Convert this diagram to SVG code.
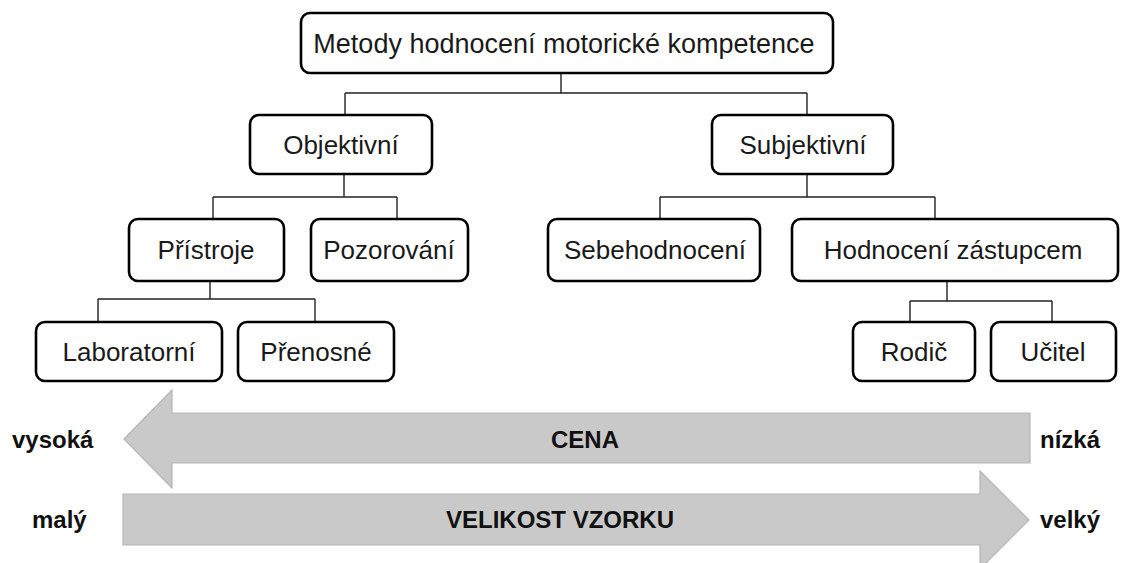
<svg xmlns="http://www.w3.org/2000/svg" width="1137" height="563" viewBox="0 0 1137 563">
<style>
.box{fill:#fff;stroke:#000;stroke-width:2.6}
.t{font-family:"Liberation Sans",Arial,sans-serif;font-size:26px;fill:#1a1a1a;text-anchor:middle}
.top{font-size:27px}
.b{font-family:"Liberation Sans",Arial,sans-serif;font-size:24px;font-weight:bold;fill:#111}
.c{fill:none;stroke:#222;stroke-width:1.4}
.arr{fill:#c9c9c9;stroke:#b5b5b5;stroke-width:1.2}
</style>
<rect width="1137" height="563" fill="#fff"/>
<g id="connectors">
<path class="c" d="M561 73V93M345 93H807M345 93V115M807 93V115"/>
<path class="c" d="M344 174V197M213 197H397M213 197V219M397 197V219"/>
<path class="c" d="M807 174V197M660 197H935M660 197V219M935 197V219"/>
<path class="c" d="M210 281V299M98 299H315M98 299V322M315 299V322"/>
<path class="c" d="M947 281V301M910 301H1052M910 301V322M1052 301V322"/>
</g>
<g id="n-root"><rect class="box" x="301" y="13" width="532" height="60" rx="9"/><text class="t top" x="564" y="53">Metody hodnocení motorické kompetence</text></g>
<g id="n-objektivni"><rect class="box" x="250" y="115" width="182" height="59" rx="9"/><text class="t" x="341" y="154">Objektivní</text></g>
<g id="n-subjektivni"><rect class="box" x="712" y="115" width="181" height="59" rx="9"/><text class="t" x="803" y="154">Subjektivní</text></g>
<g id="n-pristroje"><rect class="box" x="129" y="219" width="155" height="62" rx="9"/><text class="t" x="206" y="259">Přístroje</text></g>
<g id="n-pozorovani"><rect class="box" x="311" y="219" width="157" height="62" rx="9"/><text class="t" x="389" y="259">Pozorování</text></g>
<g id="n-sebehodnoceni"><rect class="box" x="548" y="219" width="212" height="62" rx="9"/><text class="t" x="655" y="259">Sebehodnocení</text></g>
<g id="n-hodnoceni-zastupcem"><rect class="box" x="792" y="219" width="326" height="62" rx="9"/><text class="t" x="953" y="259">Hodnocení zástupcem</text></g>
<g id="n-laboratorni"><rect class="box" x="36" y="322" width="186" height="59" rx="9"/><text class="t" x="129" y="361">Laboratorní</text></g>
<g id="n-prenosne"><rect class="box" x="238" y="322" width="156" height="59" rx="9"/><text class="t" x="316" y="361">Přenosné</text></g>
<g id="n-rodic"><rect class="box" x="853" y="322" width="122" height="59" rx="9"/><text class="t" x="914" y="361">Rodič</text></g>
<g id="n-ucitel"><rect class="box" x="991" y="322" width="125" height="59" rx="9"/><text class="t" x="1053" y="361">Učitel</text></g>
<g id="arrow-cena">
<polygon class="arr" points="124,439 172,390 172,413 1030,413 1030,463 172,463 172,488"/>
<text class="b" x="585" y="448" text-anchor="middle">CENA</text>
</g>
<g id="arrow-velikost">
<polygon class="arr" points="123,494 980,494 980,471 1029,520 980,569 980,545 123,545"/>
<text class="b" x="560" y="528" text-anchor="middle">VELIKOST VZORKU</text>
</g>
<g id="labels">
<text class="b" x="12" y="448">vysoká</text>
<text class="b" x="1040" y="448">nízká</text>
<text class="b" x="32" y="528">malý</text>
<text class="b" x="1040" y="528">velký</text>
</g>
</svg>
